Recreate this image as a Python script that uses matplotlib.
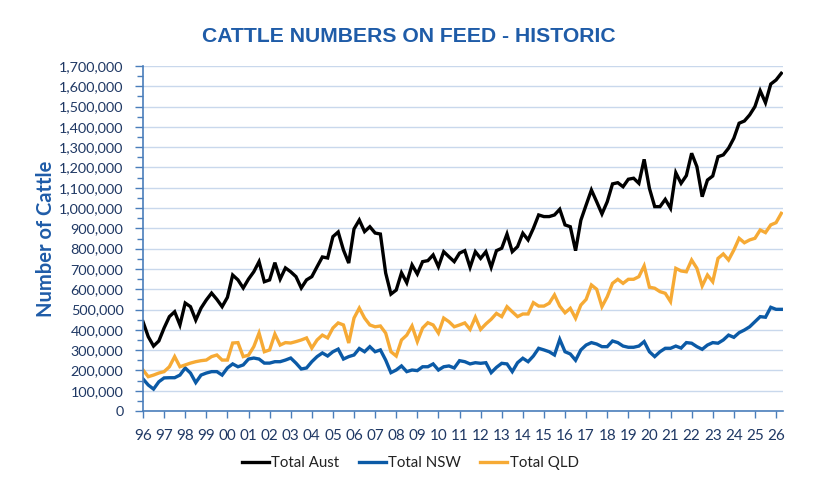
import numpy as np
import matplotlib.pyplot as plt
from matplotlib.ticker import MultipleLocator, FuncFormatter

# quarterly figures, 1996 Q1 .. 2026 Q2 (thousand head)
total_aust = [
    440, 366, 320, 345, 409, 465, 489, 424, 532, 514, 448, 507,
    547, 581, 550, 514, 560, 670, 646, 606, 650, 686, 736, 637,
    646, 731, 650, 705, 686, 662, 606, 646, 662, 711, 759, 754,
    859, 882, 793, 729, 897, 941, 884, 908, 877, 872, 680, 576,
    596, 681, 632, 720, 675, 736, 741, 769, 711, 785, 760, 736,
    778, 790, 708, 785, 752, 785, 708, 790, 802, 872, 785, 810,
    876, 843, 900, 966, 958, 958, 966, 994, 917, 908, 790, 940,
    1015, 1089, 1031, 971, 1031, 1119, 1125, 1105, 1142, 1147, 1122, 1240,
    1097, 1007, 1007, 1043, 999, 1174, 1122, 1160, 1270, 1204, 1056, 1138,
    1158, 1253, 1262, 1295, 1344, 1418, 1429, 1459, 1500, 1578, 1519, 1611,
    1631, 1664,
]
total_nsw = [
    158, 128, 108, 144, 163, 164, 164, 177, 212, 187, 140, 177,
    187, 194, 194, 177, 212, 232, 218, 227, 256, 261, 256, 236,
    236, 243, 243, 251, 261, 236, 207, 212, 243, 268, 286, 271,
    292, 305, 256, 268, 276, 308, 292, 317, 292, 301, 251, 189,
    202, 222, 194, 202, 199, 218, 218, 232, 202, 218, 222, 212,
    248, 243, 232, 238, 235, 238, 189, 215, 235, 232, 194, 238,
    260, 243, 271, 309, 301, 292, 276, 353, 292, 281, 250, 301,
    325, 337, 330, 317, 317, 345, 337, 320, 314, 314, 320, 342,
    292, 268, 292, 309, 309, 320, 310, 337, 334, 317, 304, 325,
    337, 334, 350, 374, 363, 386, 399, 415, 440, 465, 462, 511,
    501, 501,
]
total_qld = [
    202, 169, 177, 187, 194, 218, 268, 218, 227, 236, 243, 248,
    251, 268, 276, 251, 251, 335, 337, 268, 275, 317, 384, 292,
    301, 379, 325, 337, 335, 342, 350, 360, 310, 350, 374, 360,
    409, 434, 424, 335, 458, 507, 458, 424, 415, 419, 384, 292,
    271, 350, 374, 419, 342, 409, 435, 424, 384, 458, 440, 415,
    424, 434, 402, 462, 402, 429, 452, 481, 465, 514, 489, 465,
    478, 478, 534, 517, 517, 531, 572, 517, 484, 506, 457, 522,
    550, 621, 600, 514, 563, 629, 649, 629, 649, 649, 662, 715,
    610, 605, 588, 580, 539, 703, 690, 686, 744, 703, 616, 670,
    637, 752, 774, 744, 793, 851, 829, 843, 851, 892, 879, 917,
    928, 974,
]
years = list(range(1996, 2027))
year_labels = ['%02d' % (y % 100) for y in years]

t = 1996 + np.arange(len(total_aust)) / 4.0
aust = np.array(total_aust) * 1000
nsw = np.array(total_nsw) * 1000
qld = np.array(total_qld) * 1000

plt.rcParams['font.family'] = ['Lato', 'DejaVu Sans']
axis_blue = '#4A7EBB'
text_blue = '#1F3864'
title_blue = '#1F5CA8'

fig = plt.figure(figsize=(8.17, 4.91), dpi=100)
ax = fig.add_axes([143 / 817, 80 / 491, 640 / 817, 345 / 491])

ax.plot(t, aust, color='black', lw=2.4, label='Total Aust', solid_joinstyle='miter')
ax.plot(t, nsw, color='#0B5AA6', lw=2.4, label='Total NSW', solid_joinstyle='miter')
ax.plot(t, qld, color='#F6AA35', lw=2.4, label='Total QLD', solid_joinstyle='miter')

ax.set_xlim(1996, 2026.33)
ax.set_ylim(0, 1700000)
ax.set_xticks(years)
ax.set_xticklabels(year_labels)
ax.yaxis.set_major_locator(MultipleLocator(100000))
ax.yaxis.set_minor_locator(MultipleLocator(50000))
ax.yaxis.set_major_formatter(FuncFormatter(lambda v, p: '{:,.0f}'.format(v)))

ax.grid(axis='y', which='major', color='#C9D8EC', lw=1)
ax.set_axisbelow(True)
for s in ['top', 'right']:
    ax.spines[s].set_visible(False)
for s in ['left', 'bottom']:
    ax.spines[s].set_color(axis_blue)
    ax.spines[s].set_linewidth(1.2)
ax.tick_params(axis='both', which='both', colors=axis_blue, direction='out')
ax.tick_params(axis='y', which='major', length=6, width=1, labelsize=10.4, labelcolor=text_blue, pad=8)
ax.tick_params(axis='y', which='minor', length=4, width=1)
ax.tick_params(axis='x', length=5, width=1, labelsize=11, labelcolor=text_blue, pad=8)

ax.set_ylabel('Number of Cattle', fontsize=14.5, fontweight='bold', color=title_blue)
ax.yaxis.set_label_coords(-0.136, 0.5)
fig.text(0.5, 0.925, 'CATTLE NUMBERS ON FEED - HISTORIC', ha='center', va='center',
         fontsize=15.2, fontweight='bold', color=title_blue,
         family=['Liberation Sans', 'DejaVu Sans'])

fig.legend(loc='center', bbox_to_anchor=(0.502, 0.057), ncol=3, frameon=False,
           fontsize=10.8, handlelength=1.8, columnspacing=1.3, handletextpad=0.15,
           labelcolor='#222222')

fig.savefig('out.png', dpi=100)
